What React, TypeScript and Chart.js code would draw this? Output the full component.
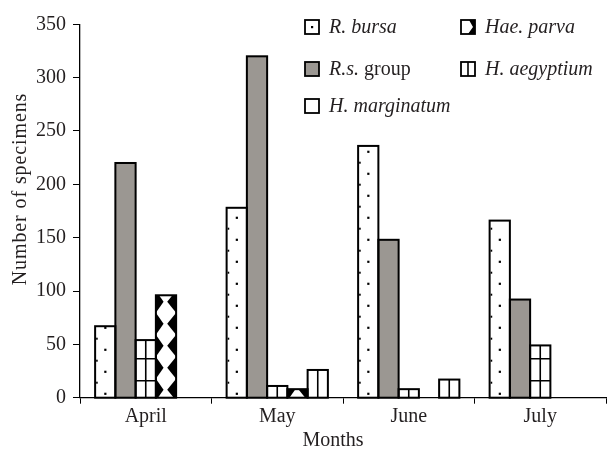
import React, { useEffect, useRef } from 'react';
import { Chart, registerables } from 'chart.js';

Chart.register(...registerables);

// ---- data ----
const months = ['April', 'May', 'June', 'July'];
const seriesNames = ['R. bursa', 'R.s. group', 'H. aegyptium', 'Hae. parva', 'H. marginatum'];
const rBursa = [67, 178, 236, 166];
const rsGroup = [220, 320, 148, 92];
const hAegyptium = [54, 11, 8, 49];
const haeParva = [96, 8, 0, 0];
const hMarginatum = [0, 26, 17, 0];
const yMax = 350;
const yStep = 50;
const xTitle = 'Months';
const yTitle = 'Number of specimens';

const FONT = '"Liberation Serif", "Times New Roman", serif';
const FS = 20;
const TXT = '#231f20';
const GRAY = '#9b9792';

const kinds = ['dots', 'gray', 'grid', 'parva', 'vline'];

const barPatterns = {
  id: 'barPatterns',
  afterDatasetsDraw(chart: any) {
    const ctx = chart.ctx as CanvasRenderingContext2D;
    const base = chart.scales.y.getPixelForValue(0);
    chart.data.datasets.forEach((ds: any, i: number) => {
      const meta = chart.getDatasetMeta(i);
      const kind = kinds[i];
      meta.data.forEach((el: any) => {
        const { x, y, width } = el.getProps(['x', 'y', 'width'], true);
        const l = x - width / 2;
        const r = x + width / 2;
        const t = Math.min(y, base);
        const b = base;
        if (b - t < 0.5) return;
        ctx.save();
        ctx.beginPath();
        ctx.rect(l, t, width, b - t);
        ctx.clip();
        ctx.fillStyle = '#000';
        ctx.strokeStyle = '#000';
        if (kind === 'dots') {
          for (let k = 0; ; k++) {
            const yy = base - 4 - 22 * k;
            if (yy < t - 2) break;
            ctx.fillRect(x - 1, yy - 1, 2.2, 2.2);
          }
          for (let k = 0; ; k++) {
            const yy = base - 15 - 22 * k;
            if (yy < t - 2) break;
            ctx.fillRect(l + 1, yy - 1, 1.6, 2);
          }
        } else if (kind === 'grid' || kind === 'vline') {
          ctx.lineWidth = 1.6;
          ctx.beginPath();
          ctx.moveTo(x, t);
          ctx.lineTo(x, b);
          ctx.stroke();
          if (kind === 'grid') {
            for (let k = 0; ; k++) {
              const yy = base - 17 - 22 * k;
              if (yy < t) break;
              ctx.beginPath();
              ctx.moveTo(l, yy);
              ctx.lineTo(r, yy);
              ctx.stroke();
            }
          }
        } else if (kind === 'parva') {
          for (let k = 0; ; k++) {
            const yc = base - 8 - 22 * k;
            if (yc < t - 12) break;
            ctx.beginPath();
            ctx.moveTo(l, yc - 11);
            ctx.lineTo(l + width * 0.38, yc);
            ctx.lineTo(l, yc + 11);
            ctx.closePath();
            ctx.fill();
            ctx.beginPath();
            ctx.moveTo(r, yc - 11);
            ctx.lineTo(r - width * 0.44, yc);
            ctx.lineTo(r, yc + 11);
            ctx.closePath();
            ctx.fill();
          }
        }
        ctx.restore();
        ctx.save();
        ctx.lineWidth = 2;
        ctx.strokeStyle = '#000';
        ctx.strokeRect(l, t, width, b - t);
        ctx.restore();
      });
    });
  },
};

// legend layout (positions only)
const legendPos = [
  { idx: 0, bx: 305, cy: 27 },
  { idx: 3, bx: 461, cy: 27 },
  { idx: 1, bx: 305, cy: 69 },
  { idx: 2, bx: 461, cy: 69 },
  { idx: 4, bx: 305, cy: 106 },
];

const customLegend = {
  id: 'customLegend',
  afterDraw(chart: any) {
    const ctx = chart.ctx as CanvasRenderingContext2D;
    legendPos.forEach(({ idx, bx, cy }) => {
      const s = 14;
      const l = bx;
      const t = cy - s / 2;
      const kind = kinds[idx];
      ctx.save();
      ctx.fillStyle = kind === 'gray' ? GRAY : '#fff';
      ctx.fillRect(l, t, s, s);
      ctx.fillStyle = '#000';
      ctx.strokeStyle = '#000';
      if (kind === 'dots') {
        ctx.fillRect(l + s / 2 - 1, cy - 1, 2.2, 2.2);
      } else if (kind === 'grid') {
        ctx.lineWidth = 1.6;
        ctx.beginPath();
        ctx.moveTo(l + s / 2, t);
        ctx.lineTo(l + s / 2, t + s);
        ctx.stroke();
      } else if (kind === 'parva') {
        ctx.beginPath();
        ctx.moveTo(l + s - 6, t);
        ctx.lineTo(l + s, t);
        ctx.lineTo(l + s, t + s);
        ctx.lineTo(l + s - 7, t + s);
        ctx.lineTo(l + s - 2, cy);
        ctx.closePath();
        ctx.fill();
      }
      ctx.lineWidth = 1.8;
      ctx.strokeRect(l, t, s, s);
      ctx.fillStyle = TXT;
      ctx.textBaseline = 'alphabetic';
      ctx.textAlign = 'left';
      const name = seriesNames[idx];
      const tx = bx + 24;
      const ty = cy + 6;
      if (name === 'R.s. group') {
        ctx.font = `italic ${FS}px ${FONT}`;
        ctx.fillText('R.s.', tx, ty);
        const w = ctx.measureText('R.s.').width;
        ctx.font = `${FS}px ${FONT}`;
        ctx.fillText(' group', tx + w, ty);
      } else {
        ctx.font = `italic ${FS}px ${FONT}`;
        ctx.fillText(name, tx, ty);
      }
      ctx.restore();
    });

    // axis titles
    ctx.save();
    ctx.fillStyle = TXT;
    ctx.font = `${FS}px ${FONT}`;
    ctx.textAlign = 'center';
    ctx.textBaseline = 'middle';
    ctx.fillText(xTitle, 333, 441);
    ctx.translate(21, 189);
    ctx.rotate(-Math.PI / 2);
    (ctx as any).letterSpacing = '0.9px';
    ctx.fillText(yTitle, 0, 0);
    ctx.restore();
  },
};

export default function App() {
  const ref = useRef<HTMLCanvasElement | null>(null);
  useEffect(() => {
    if (!ref.current) return;
    const values = [rBursa, rsGroup, hAegyptium, haeParva, hMarginatum];
    const chart = new Chart(ref.current, {
      type: 'bar',
      data: {
        labels: months,
        datasets: seriesNames.map((name, i) => ({
          label: name,
          data: values[i],
          backgroundColor: kinds[i] === 'gray' ? GRAY : '#ffffff',
          borderWidth: 0,
          categoryPercentage: 0.77,
          barPercentage: 1,
        })),
      },
      options: {
        animation: false,
        responsive: false,
        devicePixelRatio: 1,
        layout: { padding: { top: 24.3, right: 1, left: 0, bottom: 0 } },
        plugins: {
          legend: { display: false },
          tooltip: { enabled: false },
        },
        scales: {
          x: {
            grid: {
              display: true,
              drawOnChartArea: false,
              drawTicks: true,
              tickLength: 6,
              color: '#000',
              offset: true,
            },
            border: { display: true, color: '#000', width: 1.3 },
            ticks: { color: TXT, font: { family: FONT, size: FS }, padding: 1 },
            title: { display: false, text: xTitle },
            afterFit(scale: any) {
              scale.height = 53.3;
            },
          },
          y: {
            min: 0,
            max: yMax,
            ticks: { stepSize: yStep, color: TXT, font: { family: FONT, size: FS }, padding: 7 },
            grid: {
              display: true,
              drawOnChartArea: false,
              drawTicks: true,
              tickLength: 7,
              color: '#000',
            },
            border: { display: true, color: '#000', width: 1.3 },
            title: { display: false, text: yTitle },
            afterFit(scale: any) {
              scale.width = 80;
            },
          },
        },
      },
      plugins: [barPatterns, customLegend],
    } as any);
    return () => chart.destroy();
  }, []);
  return (
    <div style={{ position: 'absolute', left: 0, top: 0, width: 607, height: 451, background: '#fff' }}>
      <canvas ref={ref} width={607} height={451} style={{ display: 'block', width: 607, height: 451 }} />
    </div>
  );
}
